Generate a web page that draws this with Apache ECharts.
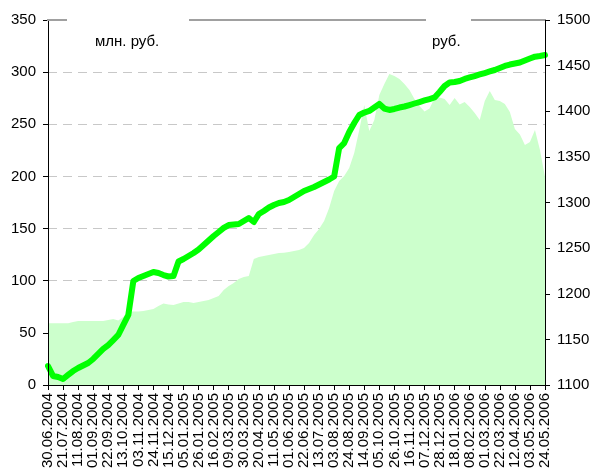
<!DOCTYPE html>
<html>
<head>
<meta charset="utf-8">
<script src="https://cdn.jsdelivr.net/npm/echarts@6/dist/echarts.min.js"></script>
<style>
html,body{margin:0;padding:0;background:#fff;}
#chart{width:594px;height:475px;}
</style>
</head>
<body>
<div id="chart"></div>
<script>
// Tick labels on the date axis (every third weekly point)
const tickLabels = ["30.06.2004","21.07.2004","11.08.2004","01.09.2004","22.09.2004","13.10.2004","03.11.2004","24.11.2004","15.12.2004","05.01.2005","26.01.2005","16.02.2005","09.03.2005","30.03.2005","20.04.2005","11.05.2005","01.06.2005","22.06.2005","13.07.2005","03.08.2005","24.08.2005","14.09.2005","05.10.2005","26.10.2005","16.11.2005","07.12.2005","28.12.2005","18.01.2006","08.02.2006","01.03.2006","22.03.2006","12.04.2006","03.05.2006","24.05.2006"];

// Net assets, млн. руб. (left axis), weekly
const assets = [59.2,59.2,59.2,59.2,59.2,60.4,61.4,61.4,61.4,61.4,61.4,61.4,62.3,63.3,61.8,65.2,70.3,70.5,70.5,71.0,
71.9,72.9,75.8,78.2,77.2,76.7,78.2,79.6,79.6,78.6,79.6,80.5,81.5,83.4,85.3,91.1,94.9,97.8,101.6,103.6,
104.5,120.8,122.7,123.7,124.7,125.6,126.6,126.9,127.5,128.5,129.5,131.4,136.2,143.8,149.6,157.3,169.7,186.0,195.6,200.4,
208.1,222.5,244.5,268.5,243.6,254.1,278.1,288.6,298.2,296.3,293.4,288.6,282.9,274.2,267.5,262.3,265.1,275.2,275.7,274.2,
268.5,275.2,269.0,271.4,266.6,260.8,254.1,272.3,281.9,273.3,272.3,269.5,261.8,245.5,240.2,230.1,233.0,244.5,225.3,199.5];

// Unit price, руб. (right axis), weekly
const price = [1120.8,1109.9,1108.8,1106.6,1111.0,1115.3,1118.6,1121.4,1124.1,1128.5,1134.0,1139.5,1143.8,1149.3,1154.8,1165.8,1176.7,1214.0,1217.3,1219.5,
1221.6,1223.8,1222.7,1220.5,1218.9,1219.5,1235.3,1238.1,1241.4,1244.7,1248.5,1253.4,1258.4,1263.3,1267.7,1272.1,1275.3,1275.9,1276.4,1279.7,
1283.0,1278.6,1287.4,1290.7,1294.5,1297.3,1299.5,1300.5,1302.7,1306.0,1309.3,1312.6,1314.8,1317.0,1319.7,1322.5,1325.2,1328.5,1359.7,1365.2,
1377.3,1387.1,1395.9,1398.6,1400.3,1404.1,1408.0,1403.0,1401.4,1402.5,1404.1,1405.2,1406.8,1408.5,1410.1,1411.8,1413.4,1415.1,1421.1,1427.7,
1431.5,1432.1,1433.2,1435.4,1437.0,1438.6,1440.3,1441.9,1443.6,1445.2,1447.4,1449.6,1451.2,1452.3,1453.4,1455.6,1457.8,1459.8,1460.5,1461.6];

const leftUnit = "млн. руб.";
const rightUnit = "руб.";

// weekly category dates starting at the first tick label
function pad(n){return n<10?'0'+n:''+n;}
const start = Date.UTC(2004,5,30);
const categories = assets.map((_, i) => {
  const d = new Date(start + i*7*86400000);
  return pad(d.getUTCDate())+'.'+pad(d.getUTCMonth()+1)+'.'+d.getUTCFullYear();
});

const FONT = "'Liberation Sans', Arial, sans-serif";
const chart = echarts.init(document.getElementById('chart'), null, {renderer:'canvas'});
const gl = '#c8c8c8';
chart.setOption({
  animation:false,
  backgroundColor:'#ffffff',
  grid:{left:48,right:49,top:20,bottom:90,containLabel:false},
  xAxis:{
    type:'category', data:categories, boundaryGap:false, z:5,
    axisLine:{lineStyle:{color:'#000',width:1}},
    axisTick:{interval:2,length:5,lineStyle:{color:'#000'}},
    axisLabel:{interval:2,rotate:90,margin:8,color:'#000',fontSize:15,fontFamily:FONT},
    splitLine:{show:false}
  },
  yAxis:[
    {type:'value',position:'left',min:0,max:350,interval:50,z:5,
     axisLine:{show:true,lineStyle:{color:'#000',width:1}},
     axisTick:{show:true,length:5,lineStyle:{color:'#000'}},
     axisLabel:{margin:12,color:'#000',fontSize:15,fontFamily:FONT,formatter:v=>String(v)},
     splitLine:{show:false}},
    {type:'value',position:'right',min:1100,max:1500,interval:50,z:5,
     axisLine:{show:true,lineStyle:{color:'#000',width:1}},
     axisTick:{show:true,length:5,lineStyle:{color:'#000'}},
     axisLabel:{margin:12,color:'#000',fontSize:15,fontFamily:FONT,formatter:v=>String(v)},
     splitLine:{show:false}},
    {type:'value',position:'left',min:0,max:350,interval:50,z:0,
     axisLine:{show:false},axisTick:{show:false},axisLabel:{show:false},
     splitLine:{show:true,lineStyle:{color:[gl,gl,gl,gl,gl,gl,gl,'rgba(0,0,0,0)'],type:[9,6],width:1}}}
  ],
  series:[
    {name:leftUnit,type:'line',yAxisIndex:0,data:assets,symbol:'none',
     lineStyle:{width:0},areaStyle:{color:'#ccffcc',opacity:1},z:1},
    {name:rightUnit,type:'line',yAxisIndex:1,data:price,symbol:'none',
     lineStyle:{color:'#00ff00',width:6,cap:'round',join:'round'},z:3}
  ],
  graphic:[
    {type:'line',shape:{x1:47,y1:20,x2:67,y2:20},style:{stroke:'#a0a0a0',lineWidth:2},z:10},
    {type:'line',shape:{x1:189,y1:20,x2:426,y2:20},style:{stroke:'#a0a0a0',lineWidth:2},z:10},
    {type:'line',shape:{x1:471,y1:20,x2:545,y2:20},style:{stroke:'#a0a0a0',lineWidth:2},z:10},
    {type:'text',left:95,top:34,style:{text:leftUnit,fill:'#000',font:'15px '+FONT},z:10},
    {type:'text',left:432,top:34,style:{text:rightUnit,fill:'#000',font:'15px '+FONT},z:10}
  ]
});
</script>
</body>
</html>
